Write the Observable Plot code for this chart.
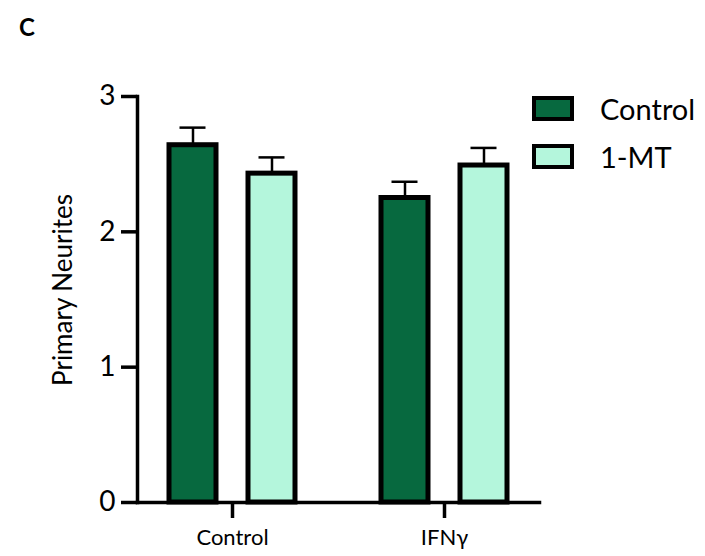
<!DOCTYPE html>
<html>
<head>
<meta charset="utf-8">
<script src="https://cdn.jsdelivr.net/npm/d3@7"></script>
<script src="https://cdn.jsdelivr.net/npm/@observablehq/plot@0.6"></script>
<style>
  html, body { margin: 0; padding: 0; background: #fff; }
  #wrap { position: relative; width: 705px; height: 556px; font-family: Lato, "Open Sans", sans-serif; }
  #wrap svg { position: absolute; left: 0; top: 0; }
  #panel { position: absolute; left: 19px; top: 12px; font-weight: bold; font-size: 24px; }
  #ylabel { position: absolute; left: 62px; top: 290px; transform: translate(-50%, -50%) rotate(-90deg); white-space: nowrap; font-size: 26px; line-height: 1; }
  #legend { position: absolute; left: 532px; top: 84px; }
  .item { display: flex; align-items: center; height: 48px; font-size: 29px; }
  .sw { width: 34px; height: 17px; border: 4px solid #000; margin-right: 26px; }
</style>
</head>
<body>
<div id="wrap">
  <div id="panel">C</div>
  <div id="ylabel">Primary Neurites</div>
  <div id="legend"></div>
</div>
<script>
const groups = ["Control", "IFNγ"];
const series = ["Control", "1-MT"];
const colors = ["#07693f", "#b4f6dc"];
// values [group][series]
const means = [[2.64, 2.43], [2.25, 2.49]];
const errors = [[0.13, 0.12], [0.12, 0.13]];
const yTicks = [0, 1, 2, 3];

const data = [];
groups.forEach((g, i) => series.forEach((s, j) => data.push({group: g, series: s, value: means[i][j], err: errors[i][j]})));

const chart = Plot.plot({
  width: 705,
  height: 556,
  marginLeft: 136,
  marginRight: 165,
  marginTop: 96,
  marginBottom: 54,
  style: {fontFamily: "Lato, 'Open Sans', sans-serif", color: "#000", background: "transparent"},
  fx: {domain: groups, paddingInner: 0.103, paddingOuter: 0},
  x: {domain: series, paddingInner: 0.4, paddingOuter: 0.394, axis: null},
  y: {domain: [0, 3], axis: null},
  color: {domain: series, range: colors},
  marks: [
    Plot.ruleX(data, {fx: "group", x: "series", y1: "value", y2: d => d.value + d.err, stroke: "#000", strokeWidth: 2.5}),
    Plot.tickY(data, {fx: "group", x: "series", y: d => d.value + d.err, stroke: "#000", strokeWidth: 2.5, insetLeft: 10.5, insetRight: 10.5}),
    Plot.barY(data, {fx: "group", x: "series", y: "value", fill: "series", stroke: "#000", strokeWidth: 5, inset: 0}),
    Plot.axisY({ticks: yTicks, tickFormat: d3.format("d"), tickSize: 16, tickPadding: 6, fontSize: 28, strokeWidth: 3.5, label: null}),
    Plot.axisFx({anchor: "bottom", tickSize: 16, tickPadding: 11, fontSize: 22, strokeWidth: 3.5, label: null}),
    Plot.frame({anchor: "bottom", facet: "super", stroke: "#000", strokeWidth: 3.5}),
    Plot.frame({anchor: "left", facet: "super", stroke: "#000", strokeWidth: 3.5})
  ]
});
document.getElementById("wrap").prepend(chart);

const legend = document.getElementById("legend");
series.forEach((s, i) => {
  const item = document.createElement("div");
  item.className = "item";
  const sw = document.createElement("div");
  sw.className = "sw";
  sw.style.background = colors[i];
  const label = document.createElement("span");
  label.textContent = s;
  item.append(sw, label);
  legend.append(item);
});
</script>
</body>
</html>
